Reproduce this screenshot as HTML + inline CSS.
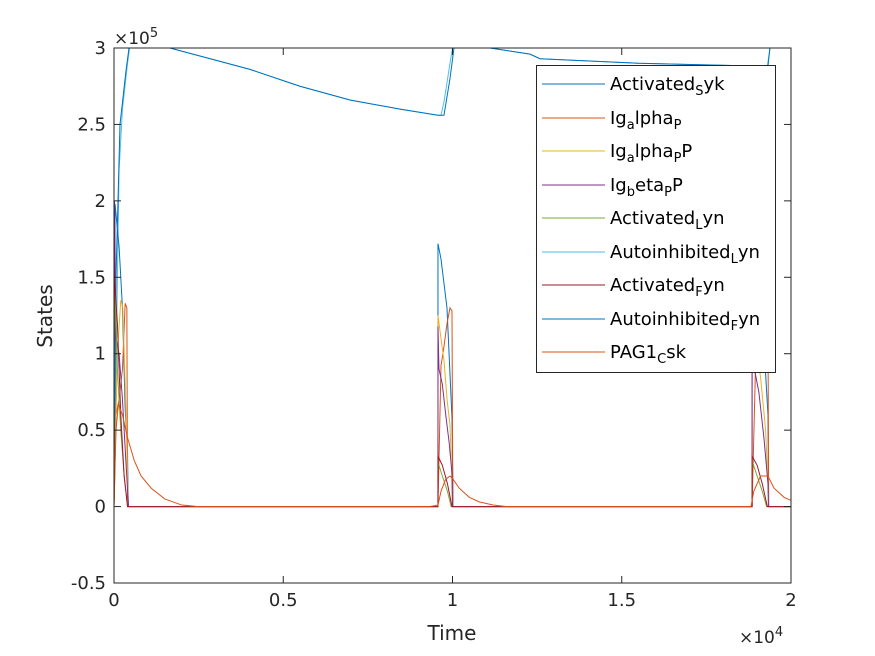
<!DOCTYPE html>
<html><head><meta charset="utf-8"><style>
html,body{margin:0;padding:0;background:#fff;}
body{position:relative;width:875px;height:656px;overflow:hidden;}
svg{display:block;font-family:"DejaVu Sans","Liberation Sans",sans-serif;}
</style></head><body>
<svg id="chart" width="875" height="656" viewBox="0 0 875 656" xmlns="http://www.w3.org/2000/svg">
<rect x="0" y="0" width="875" height="656" fill="#fff"/>
<g id="plot"></g>
<g id="axes"></g>
</svg>
<script>
// ---- data (time, value in 1e5 units) ----
const xTicks = [0, 5000, 10000, 15000, 20000];
const xTickLabels = ["0", "0.5", "1", "1.5", "2"];
const yTicks = [-0.5, 0, 0.5, 1, 1.5, 2, 2.5, 3];
const yTickLabels = ["-0.5", "0", "0.5", "1", "1.5", "2", "2.5", "3"];
const seriesNames = ["Activated_Syk","Ig_alpha_P","Ig_alpha_P_P","Ig_beta_P_P","Activated_Lyn","Autoinhibited_Lyn","Activated_Fyn","Autoinhibited_Fyn","PAG1_Csk"];
const seriesColors = ["#0072BD","#D95319","#EDB120","#7E2F8E","#77AC30","#4DBEEE","#A2142F","#0072BD","#D95319"];
const activatedSyk = [[0,0],[30,1.98],[150,1.7],[250,1.3],[330,0.64],[400,0.35],[420,0],[9571,0],[9571,1.72],[9660,1.62],[9837,1.3],[9985,0.58],[10000,0.3],[10014,0],[18850,0],[18850,1.7],[18950,1.6],[19150,1.25],[19320,0.6],[19340,0],[20000,0]];
const igAlphaP = [[0,0],[60,0.6],[150,0.7],[250,0.9],[330,1.33],[380,1.3],[400,0],[9571,0],[9660,0.92],[9750,1.05],[9840,1.2],[9926,1.3],[9985,1.28],[10000,0.5],[10014,0],[18850,0],[18950,0.9],[19100,1.05],[19250,1.25],[19320,1.2],[19340,0],[20000,0]];
const igAlphaPP = [[0,0],[100,1.0],[200,1.35],[260,1.3],[330,0.8],[400,0.2],[420,0],[9571,0],[9571,1.25],[9660,1.1],[9750,0.95],[9840,0.7],[9926,0.53],[9985,0.15],[10000,0],[18850,0],[18850,1.2],[18950,1.05],[19100,0.85],[19250,0.5],[19320,0.15],[19335,0],[20000,0]];
const igBetaPP = [[0,0],[15,2.0],[60,1.1],[150,1.0],[250,0.7],[350,0.3],[430,0],[9571,0],[9571,1.18],[9600,0.9],[9700,0.8],[9800,0.6],[9900,0.42],[9985,0.22],[10000,0],[18850,0],[18850,1.05],[18900,0.92],[19050,0.75],[19200,0.45],[19320,0.15],[19335,0],[20000,0]];
const activatedLyn = [[0,0],[20,1.5],[100,0.9],[200,0.5],[300,0.2],[400,0],[9571,0],[9571,0.29],[9700,0.2],[9850,0.1],[9960,0],[18850,0],[18850,0.3],[19000,0.2],[19150,0.1],[19280,0],[20000,0]];
const autoinhibitedLyn = [[0,0],[80,1.2],[150,2.2],[250,2.6],[400,2.9],[460,3],[1654,3],[4017,2.86],[5494,2.75],[6971,2.66],[8448,2.6],[9571,2.56],[9660,2.56],[9750,2.65],[9926,2.9],[10000,3],[11107,3],[12289,2.96],[12584,2.93],[15500,2.9],[19300,2.88],[19378,3],[20000,3]];
const activatedFyn = [[0,0],[10,1.5],[100,1.2],[200,0.6],[300,0.2],[400,0],[9571,0],[9571,0.33],[9700,0.27],[9850,0.15],[9985,0],[18850,0],[18850,0.33],[19000,0.27],[19150,0.15],[19300,0],[20000,0]];
const autoinhibitedFyn = [[0,0],[59,1.5],[177,2.5],[354,2.85],[443,3],[1654,3],[4017,2.86],[5494,2.75],[6971,2.66],[8448,2.6],[9571,2.56],[9748,2.56],[9926,2.8],[10044,3],[11107,3],[12289,2.96],[12584,2.93],[15500,2.9],[19319,2.88],[19378,3],[20000,3]];
const pag1Csk = [[0,0],[60,0.5],[130,0.67],[250,0.6],[400,0.45],[600,0.3],[800,0.2],[1100,0.12],[1500,0.05],[2000,0.01],[2500,0],[9300,0],[9450,0.005],[9571,0.01],[9660,0.1],[9800,0.18],[9926,0.2],[10014,0.18],[10200,0.12],[10500,0.06],[10800,0.03],[11200,0.01],[11600,0],[18817,0],[18900,0.1],[19100,0.2],[19319,0.2],[19500,0.12],[19800,0.06],[20000,0.04]];
const seriesData = [activatedSyk, igAlphaP, igAlphaPP, igBetaPP, activatedLyn, autoinhibitedLyn, activatedFyn, autoinhibitedFyn, pag1Csk];

const NS = "http://www.w3.org/2000/svg";
const X0 = 114, X1 = 791, Y0 = 583, Y1 = 48;
const xMin = 0, xMax = 20000, yMin = -0.5, yMax = 3;
function xs(t){ return X0 + (t - xMin) / (xMax - xMin) * (X1 - X0); }
function ys(v){ return Y0 - (v - yMin) / (yMax - yMin) * (Y0 - Y1); }
function mk(tag, attrs, parent){ const e = document.createElementNS(NS, tag); for (const k in attrs) e.setAttribute(k, attrs[k]); parent.appendChild(e); return e; }

const plot = document.getElementById('plot');
const order = [5, 7, 0, 1, 2, 3, 4, 6, 8];
order.forEach(i => {
  const d = seriesData[i].map(p => xs(p[0]).toFixed(2) + "," + ys(Math.min(p[1], yMax)).toFixed(2)).join(" ");
  const pl = mk('polyline', {points: d, fill: 'none', stroke: seriesColors[i], 'stroke-width': 1}, plot);
  
  
});

const axes = document.getElementById('axes');
const box = mk('rect', {x: X0, y: Y1, width: X1 - X0, height: Y0 - Y1, fill: 'none', stroke: '#262626', 'stroke-width': 1}, axes);


xTicks.forEach((t, i) => {
  const x = xs(t);
  mk('line', {x1: x, y1: Y0, x2: x, y2: Y0 - 7, stroke: '#262626'}, axes);
  mk('line', {x1: x, y1: Y1, x2: x, y2: Y1 + 7, stroke: '#262626'}, axes);
  const tx = mk('text', {x: x, y: Y0 + 23, 'text-anchor': 'middle', 'font-size': 18, fill: '#262626'}, axes);
  tx.textContent = xTickLabels[i];
  
  
});
yTicks.forEach((v, i) => {
  const y = ys(v);
  mk('line', {x1: X0, y1: y, x2: X0 + 7, y2: y, stroke: '#262626'}, axes);
  mk('line', {x1: X1, y1: y, x2: X1 - 7, y2: y, stroke: '#262626'}, axes);
  const tx = mk('text', {x: X0 - 8, y: y + 6, 'text-anchor': 'end', 'font-size': 18, fill: '#262626'}, axes);
  tx.textContent = yTickLabels[i];
  
  
});
</script>
<svg style="position:absolute;left:0;top:0" width="875" height="656" font-family="DejaVu Sans, Liberation Sans, sans-serif">
<text x="114" y="44" font-size="17" fill="#262626">×10<tspan dy="-7" font-size="13">5</tspan></text>
<text x="739" y="643" font-size="17" fill="#262626">×10<tspan dy="-7" font-size="13">4</tspan></text>
<text x="452" y="640" font-size="20" text-anchor="middle" fill="#262626">Time</text>
<text x="52" y="316" font-size="20" text-anchor="middle" fill="#262626" transform="rotate(-90 52 316)">States</text>
<g font-size="18" fill="#000">
<rect x="536.5" y="65.5" width="239" height="307" fill="#fff" stroke="#262626"/>
<line x1="542" y1="84" x2="605" y2="84" stroke="#0072BD"/><text x="610" y="90">Activated<tspan dy="5" font-size="13">S</tspan><tspan dy="-5">yk</tspan></text>
<line x1="542" y1="118" x2="605" y2="118" stroke="#D95319"/><text x="610" y="124">Ig<tspan dy="5" font-size="13">a</tspan><tspan dy="-5">lpha</tspan><tspan dy="5" font-size="13">P</tspan></text>
<line x1="542" y1="151" x2="605" y2="151" stroke="#EDB120"/><text x="610" y="157">Ig<tspan dy="5" font-size="13">a</tspan><tspan dy="-5">lpha</tspan><tspan dy="5" font-size="13">P</tspan><tspan dy="-5">P</tspan></text>
<line x1="542" y1="185" x2="605" y2="185" stroke="#7E2F8E"/><text x="610" y="191">Ig<tspan dy="5" font-size="13">b</tspan><tspan dy="-5">eta</tspan><tspan dy="5" font-size="13">P</tspan><tspan dy="-5">P</tspan></text>
<line x1="542" y1="218" x2="605" y2="218" stroke="#77AC30"/><text x="610" y="224">Activated<tspan dy="5" font-size="13">L</tspan><tspan dy="-5">yn</tspan></text>
<line x1="542" y1="252" x2="605" y2="252" stroke="#4DBEEE"/><text x="610" y="258">Autoinhibited<tspan dy="5" font-size="13">L</tspan><tspan dy="-5">yn</tspan></text>
<line x1="542" y1="285" x2="605" y2="285" stroke="#A2142F"/><text x="610" y="291">Activated<tspan dy="5" font-size="13">F</tspan><tspan dy="-5">yn</tspan></text>
<line x1="542" y1="319" x2="605" y2="319" stroke="#0072BD"/><text x="610" y="325">Autoinhibited<tspan dy="5" font-size="13">F</tspan><tspan dy="-5">yn</tspan></text>
<line x1="542" y1="352" x2="605" y2="352" stroke="#D95319"/><text x="610" y="358">PAG1<tspan dy="5" font-size="13">C</tspan><tspan dy="-5">sk</tspan></text>
</g>
</svg>
</body></html>
